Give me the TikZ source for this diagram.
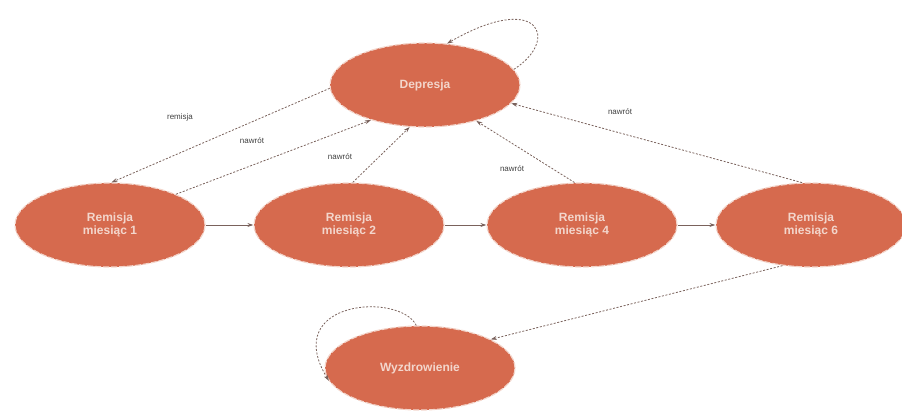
\documentclass[tikz,border=0pt]{standalone}
\usepackage{fontspec}
\setmainfont{Liberation Sans}
\usetikzlibrary{shapes.geometric,arrows.meta}
\definecolor{stfill}{HTML}{D66A4E}
\definecolor{stline}{HTML}{F3D6CC}
\definecolor{edgec}{HTML}{7A625C}
\tikzset{
  state/.style={ellipse, fill=stfill, draw=stline, line width=1.2pt, dash pattern=on 6pt off 2pt,
    minimum width=190pt, minimum height=84pt, inner sep=0pt, align=center,
    text=stline, font=\bfseries\fontsize{12}{13}\selectfont},
  dedge/.style={draw=edgec, line width=0.8pt, dash pattern=on 2pt off 1.6pt, -{Stealth[length=6pt,width=4pt]}},
  sedge/.style={draw=edgec, line width=0.9pt, -{Stealth[length=6pt,width=4pt]}},
  elab/.style={font=\fontsize{8}{9}\selectfont, text=black!75}
}
\begin{document}
\begin{tikzpicture}[x=1pt,y=-1pt]
\useasboundingbox (0,0) rectangle (902,414);
\node[state] (dep) at (425,85) {Depresja};
\node[state] (r1) at (110,225) {Remisja\\miesiąc 1};
\node[state] (r2) at (349,225) {Remisja\\miesiąc 2};
\node[state] (r4) at (582,225) {Remisja\\miesiąc 4};
\node[state] (r6) at (811,225) {Remisja\\miesiąc 6};
\node[state] (w) at (420,368) {Wyzdrowienie};

\draw[dedge] (dep.182) -- (r1.88);
\draw[dedge] (r1.25) -- (dep.213);
\draw[dedge] (r2.85) -- (dep.250);
\draw[dedge] (r4.100) -- (dep.325);
\draw[dedge] (r6.102) -- (dep.348);
\draw[dedge] (dep.10) .. controls (560,40) and (540,-10) .. (dep.62);
\draw[dedge] (r6.235) -- (w.22);
\draw[dedge] (w.95) .. controls (400,292) and (280,300) .. (w.188);

\draw[sedge] (r1) -- (r2);
\draw[sedge] (r2) -- (r4);
\draw[sedge] (r4) -- (r6);

\node[elab] (l1) at (180,117) {remisja};
\node[elab] (l2) at (252,141) {nawrót};
\node[elab] (l3) at (340,157) {nawrót};
\node[elab] (l4) at (512,169) {nawrót};
\node[elab] (l5) at (620,112) {nawrót};
\end{tikzpicture}
\end{document}
